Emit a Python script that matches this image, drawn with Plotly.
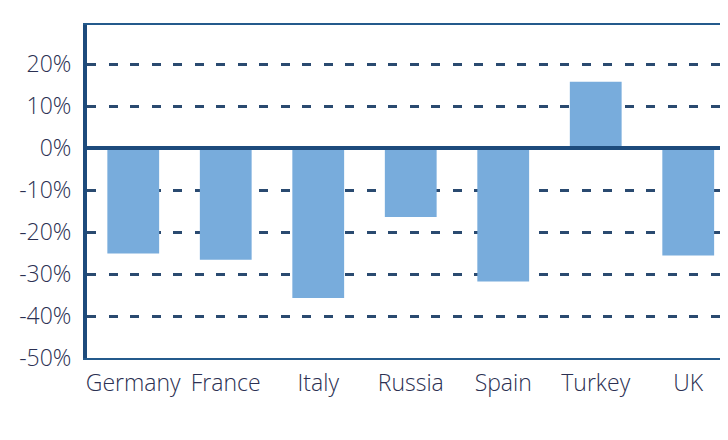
import plotly.graph_objects as go

# ── Data ─────────────────────────────────────────────
countries = ["Germany", "France", "Italy", "Russia", "Spain", "Turkey", "UK"]
change_pct = [-25.1, -26.6, -35.7, -16.4, -31.8, 15.8, -25.6]

y_ticks = [-50, -40, -30, -20, -10, 0, 10, 20]
y_tick_labels = [f"{v}%" for v in y_ticks]

NAVY = "#1d4b7c"
BAR = "#78acdc"
TEXT = "#2b3052"
FONT = "Open Sans"

fig = go.Figure()

fig.add_trace(go.Bar(
    x=list(range(len(countries))),
    y=change_pct,
    marker=dict(color=BAR, line=dict(width=0)),
    hoverinfo="skip",
))

# thick zero line drawn above the bars
fig.add_shape(
    type="line", xref="paper", x0=0, x1=1, yref="y", y0=0, y1=0,
    line=dict(color=NAVY, width=4), layer="above",
)

# page body adds ~8px, so margins are pulled in by that much
fig.update_layout(
    width=728, height=440,
    margin=dict(l=79, r=8, t=17, b=90),
    paper_bgcolor="white",
    plot_bgcolor="white",
    showlegend=False,
    bargap=0.44,
    font=dict(family=FONT, color=TEXT, size=23, weight=300),
)

fig.update_xaxes(
    range=[-0.5, 6.43],
    tickmode="array",
    tickvals=list(range(len(countries))),
    ticktext=countries,
    showgrid=False, zeroline=False,
    showline=True, linecolor="#245a8c", linewidth=2, mirror=True,
    ticks="",
    ticklabelstandoff=3,
    tickfont=dict(family=FONT, size=23, color=TEXT, weight=300),
)

fig.update_yaxes(
    range=[-50, 29.3],
    tickmode="array",
    tickvals=y_ticks,
    ticktext=y_tick_labels,
    showgrid=True, gridcolor="#2a4a70", gridwidth=2.5,
    griddash="9px,12.5px",
    zeroline=False,
    showline=True, linecolor=NAVY, linewidth=4,
    ticks="",
    ticklabelstandoff=7,
    tickfont=dict(family=FONT, size=23, color=TEXT, weight=300),
)

fig.write_html("out.html")
